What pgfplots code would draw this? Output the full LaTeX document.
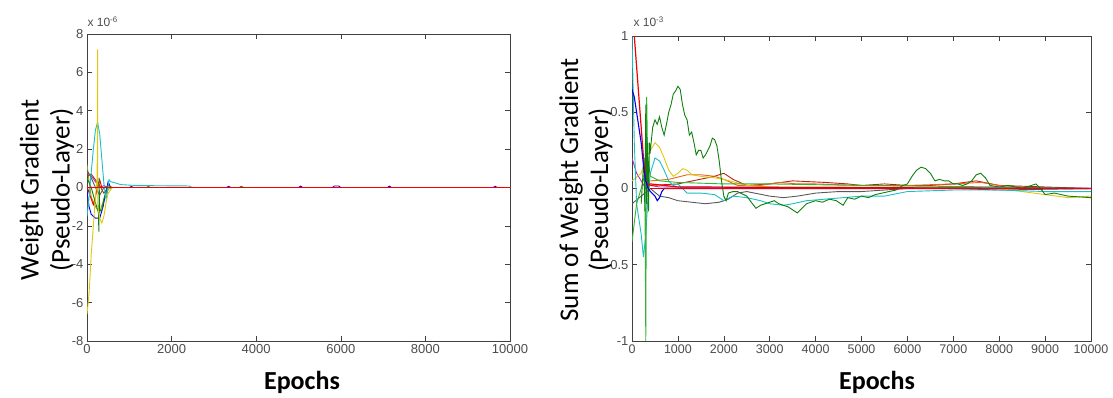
\documentclass[border=0pt]{standalone}
\usepackage{pgfplots}
\pgfplotsset{compat=1.18}
\usepackage{fontspec}
\setmainfont{Liberation Sans}
\newfontfamily\labfont{Carlito}
\newfontfamily\tickfont{Liberation Sans}
\definecolor{mblue}{rgb}{0,0,0.95}
\definecolor{mgreen}{rgb}{0.05,0.5,0.05}
\definecolor{lgreen}{rgb}{0.2,0.7,0.2}
\definecolor{mred}{rgb}{0.95,0,0}
\definecolor{mcyan}{rgb}{0.1,0.75,0.78}
\definecolor{mmag}{rgb}{0.7,0.2,0.7}
\definecolor{myel}{rgb}{0.88,0.78,0.05}
\definecolor{mgray}{rgb}{0.35,0.35,0.35}
\definecolor{morange}{rgb}{0.9,0.4,0.1}
\definecolor{mbrown}{rgb}{0.6,0.2,0.1}
\definecolor{molive}{rgb}{0.6,0.6,0.1}
\definecolor{tickgray}{rgb}{0.3,0.3,0.3}
\pgfplotsset{
  mstyle/.style={
    scale only axis,
    scaled x ticks=false, scaled y ticks=false,
    axis line style={draw=black!75, line width=0.8pt},
    tick style={draw=black!75, line width=0.6pt},
    tick align=inside,
    major tick length=5pt,
    xtick pos=both, ytick pos=both,
    tick label style={font=\fontsize{13}{15}\tickfont, text=tickgray},
    every axis plot/.append style={line width=0.9pt, no markers},
  }
}
\begin{document}
\begin{tikzpicture}[x=1pt,y=1pt]
% ---------------- left ----------------
\begin{axis}[mstyle,
  at={(87pt,56pt)}, anchor=south west,
  width=423pt, height=307pt,
  xmin=0, xmax=10000, ymin=-8, ymax=8,
  xtick={0,2000,4000,6000,8000,10000},
  xticklabels={0,2000,4000,6000,8000,10000},
  ytick={-8,-6,-4,-2,0,2,4,6,8},
  yticklabels={-8,-6,-4,-2,0,2,4,6,8},
]
\addplot[color=molive] coordinates {(0,1.2)(50,0.3)(100,-0.5)(200,-1.0)(300,-1.3)(400,-0.6)(500,-0.1)(600,0)(10000,0)};
\addplot[color=mmag] coordinates {(0,0.8)(100,0.6)(200,0.3)(300,0)(400,0.1)(500,0)(10000,0)};
\addplot[color=mbrown] coordinates {(0,0.6)(100,0.7)(200,0.4)(300,0.1)(400,-0.3)(500,0)(10000,0)};
\addplot[color=mgray] coordinates {(0,0.9)(100,0.5)(200,0)(300,-0.4)(400,0)(10000,0)};
\addplot[color=mred] coordinates {(0,0.1)(50,-0.3)(100,-0.6)(150,-0.9)(200,-0.5)(250,0.1)(300,0.4)(350,0)(10000,0)};
\addplot[color=mblue] coordinates {(0,-0.2)(50,-1.0)(100,-1.4)(200,-1.6)(300,-1.6)(380,-1.0)(450,-0.2)(500,0.3)(560,0)(1000,0)(1050,0.05)(1100,0)(3300,0)(3350,0.06)(3400,0)(5000,0)(5050,0.07)(5100,0)(5800,0)(5850,0.08)(5950,0.08)(6000,0)(7100,0)(7150,0.07)(7200,0)(9600,0)(9650,0.06)(9700,0)(10000,0)};
\addplot[color=mgreen] coordinates {(0,0.5)(100,0)(200,-0.8)(270,-1.3)(280,-2.3)(285,0.5)(300,-1.2)(350,-1.2)(400,-0.6)(450,-0.2)(500,0.1)(600,0)(1400,0)(1450,0.05)(1500,0)(3600,0)(3650,0.06)(3700,0)(10000,0)};
\addplot[color=mcyan] coordinates {(0,-1.5)(50,-0.5)(100,0.8)(150,2.0)(200,3.0)(250,3.4)(300,2.8)(350,1.5)(400,0.2)(450,-0.6)(480,-0.3)(520,0.4)(560,0.3)(650,0.25)(800,0.15)(1200,0.1)(2400,0.08)(2500,0)(10000,0)};
\addplot[color=myel] coordinates {(0,-6.6)(50,-5.5)(100,-3.5)(150,-2)(200,-0.5)(240,0.5)(250,7.2)(255,-1.0)(300,-1.6)(350,-1.85)(400,-1.5)(450,-0.8)(500,-0.3)(600,0)(10000,0)};
\addplot[color=mred, line width=1.3pt] coordinates {(0,0)(10000,0)};
\end{axis}
% ---------------- right ----------------
\begin{axis}[mstyle,
  at={(632pt,56pt)}, anchor=south west,
  width=459pt, height=305pt,
  xmin=0, xmax=10000, ymin=-1, ymax=1,
  xtick={0,1000,2000,3000,4000,5000,6000,7000,8000,9000,10000},
  xticklabels={0,1000,2000,3000,4000,5000,6000,7000,8000,9000,10000},
  ytick={-1,-0.5,0,0.5,1},
  yticklabels={-1,-0.5,0,0.5,1},
  xticklabel style={font=\fontsize{12.5}{15}\tickfont},
]
\addplot[color=mmag] coordinates {(0,0.2)(100,0.1)(200,0.05)(300,0)(400,0.02)(600,0.01)(10000,0)};
\addplot[color=mgray] coordinates {(0,-0.1)(200,-0.05)(400,0)(600,-0.05)(800,-0.06)(1000,-0.08)(1300,-0.09)(1600,-0.1)(1900,-0.09)(2100,-0.07)(2300,-0.03)(2500,-0.02)(3000,-0.05)(3300,-0.06)(3600,-0.05)(4000,-0.03)(4500,-0.02)(5000,-0.02)(6000,0)(7000,0)(8000,-0.01)(10000,0)};
\addplot[color=mbrown!60!mred] coordinates {(400,0.02)(1000,0.03)(1800,0.08)(2000,0.1)(2200,0.06)(2500,0.02)(3000,0.03)(3500,0.05)(4200,0.04)(4700,0.03)(5000,0.02)(5500,0.03)(6000,0.02)(6500,0.02)(7000,0.03)(7500,0.05)(8000,0.02)(9000,0.01)(10000,0)};
\addplot[color=morange] coordinates {(400,0.05)(800,0.06)(1200,0.09)(1500,0.09)(1800,0.08)(2000,0.06)(2300,0.02)(2800,0.02)(3200,0.04)(3600,0.03)(4000,0.03)(5000,0.02)(6000,0.02)(7000,0.03)(7600,0.04)(8000,0.02)(9000,0)(10000,0)};
\addplot[color=myel] coordinates {(0,0.05)(200,0.1)(300,0.2)(400,0.25)(500,0.3)(600,0.27)(700,0.2)(800,0.12)(900,0.08)(1000,0.1)(1100,0.13)(1200,0.12)(1300,0.09)(1500,0.08)(1800,0.07)(2000,0.06)(2500,0.02)(3000,0.01)(4000,0.01)(6000,0.01)(8000,0)(9000,-0.04)(9500,-0.06)(10000,-0.05)};
\addplot[color=mcyan] coordinates {(0,1.0)(50,0.3)(100,-0.1)(150,-0.2)(200,-0.3)(250,-0.45)(300,-0.3)(350,-0.05)(400,0.1)(500,0.2)(600,0.18)(700,0.12)(800,0.05)(900,0.02)(1000,0.03)(1200,-0.03)(1500,-0.03)(1800,-0.04)(2000,-0.08)(2200,-0.05)(2500,-0.06)(2800,-0.08)(3000,-0.1)(3300,-0.11)(3500,-0.1)(3800,-0.08)(4200,-0.07)(4600,-0.06)(5000,-0.05)(5500,-0.05)(6000,-0.02)(7000,-0.01)(8000,-0.01)(9000,-0.02)(10000,-0.02)};
\addplot[color=lgreen] coordinates {(0,-0.35)(100,-0.1)(200,0.0)(280,0.1)(300,-1.0)(320,0.6)(340,0.2)(400,0.08)(600,0.05)(1000,0.04)(2000,0.03)(3000,0.03)(5000,0.02)(8000,0.01)(10000,0)};
\addplot[color=mgreen] coordinates {(200,-0.1)(260,0.2)(280,-0.15)(300,0.55)(320,-0.1)(340,0.3)(360,-0.15)(380,0.3)(400,0.25)(450,0.4)(500,0.45)(550,0.42)(600,0.47)(650,0.4)(700,0.35)(750,0.42)(800,0.5)(850,0.55)(900,0.62)(950,0.64)(1000,0.67)(1050,0.65)(1100,0.55)(1150,0.48)(1200,0.45)(1250,0.35)(1300,0.37)(1350,0.3)(1400,0.22)(1450,0.25)(1500,0.25)(1550,0.2)(1600,0.22)(1650,0.25)(1700,0.28)(1750,0.33)(1800,0.32)(1850,0.28)(1900,0.18)(1950,0.05)(2000,-0.05)(2050,-0.08)(2100,-0.03)(2200,-0.02)(2300,-0.02)(2500,-0.05)(2700,-0.13)(2800,-0.11)(2900,-0.1)(3000,-0.09)(3100,-0.08)(3200,-0.1)(3300,-0.11)(3400,-0.12)(3500,-0.14)(3600,-0.16)(3700,-0.13)(3800,-0.1)(3900,-0.09)(4000,-0.08)(4150,-0.09)(4300,-0.07)(4450,-0.08)(4600,-0.11)(4700,-0.06)(4850,-0.07)(5000,-0.05)(5150,-0.06)(5300,-0.04)(5450,-0.03)(5600,-0.02)(5750,-0.01)(5900,0.02)(6000,0.03)(6100,0.08)(6200,0.12)(6300,0.14)(6400,0.13)(6500,0.1)(6600,0.05)(6700,0.06)(6800,0.05)(6900,0.05)(7000,0.03)(7100,0.03)(7200,0.02)(7300,0.03)(7400,0.05)(7500,0.09)(7600,0.1)(7700,0.07)(7800,0.02)(8000,0.01)(8200,0.02)(8500,0)(8800,0.03)(8900,0)(9000,-0.04)(9200,-0.03)(9500,-0.05)(10000,-0.06)};
\addplot[color=mred, line width=1.2pt] coordinates {(50,1.0)(100,0.8)(150,0.6)(200,0.4)(250,0.2)(300,0.05)(350,0.02)(400,0.03)(1000,0.01)(10000,0)};
\addplot[color=mblue, line width=1.1pt] coordinates {(0,0.65)(50,0.6)(100,0.5)(150,0.4)(200,0.3)(250,0.15)(300,0.05)(350,0)(400,-0.02)(500,-0.05)(550,-0.08)(600,-0.06)(650,-0.02)(700,0)(10000,0)};
\addplot[color=mred, line width=1.5pt] coordinates {(400,0)(10000,0)};
\end{axis}
% labels
\node[anchor=base west, font=\fontsize{12}{14}\tickfont, text=tickgray] at (84,370) {x 10\textsuperscript{-6}};
\node[anchor=base west, font=\fontsize{12}{14}\tickfont, text=tickgray] at (630,370) {x 10\textsuperscript{-3}};
\node[anchor=base, font=\fontsize{26}{30}\labfont\bfseries] at (302,8) {Epochs};
\node[anchor=base, font=\fontsize{26}{30}\labfont\bfseries] at (877,8) {Epochs};
\node[rotate=90, align=center, font=\fontsize{27}{31}\labfont] at (47,207) {Weight Gradient\\(Pseudo-Layer)};
\node[rotate=90, align=center, font=\fontsize{27}{30}\labfont] at (586,207) {Sum of Weight Gradient\\(Pseudo-Layer)};
\pgfresetboundingbox
\path[use as bounding box] (0,0) rectangle (1113,397);
\end{tikzpicture}
\end{document}
